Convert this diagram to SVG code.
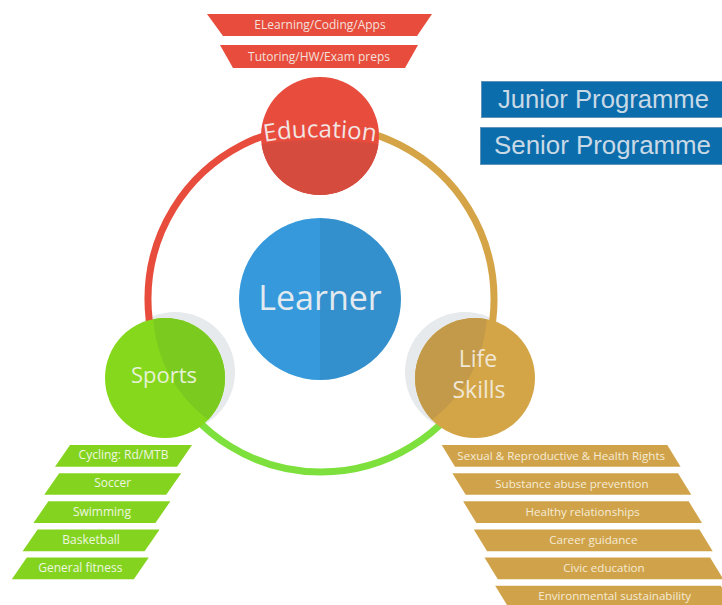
<svg xmlns="http://www.w3.org/2000/svg" xmlns:xlink="http://www.w3.org/1999/xlink" width="722" height="605" viewBox="0 0 722 605">
  <defs>
    <style>
      .t { font-family: "Open Sans", "Noto Sans", "Liberation Sans", sans-serif; text-anchor: middle; }
      .small { font-size: 12px; }
      .gold-lbl { font-size: 11.6px; fill: #f5ebd5; }
      .ring { fill: none; stroke-width: 7; }
      .shadow { fill: #e6eaec; }
      .prog rect { fill: #0b6dab; stroke: #5f93b8; stroke-width: 1; }
      .prog text { font-family: "Liberation Sans", "Open Sans", sans-serif; font-size: 25px; fill: #c9d9e6; }
    </style>
    <polygon id="tag-green" points="15,0 137,0 122,21.7 0,21.7" fill="#84d41f"/>
    <polygon id="tag-gold" points="0,0 225.6,0 238.9,21.7 13.3,21.7" fill="#d0a34a"/>
    <clipPath id="clip-edu"><circle cx="320" cy="136" r="59"/></clipPath>
    <clipPath id="clip-learner"><circle cx="320" cy="299" r="81"/></clipPath>
    <clipPath id="clip-sports"><circle cx="165" cy="378" r="60"/></clipPath>
    <clipPath id="clip-life"><circle cx="475" cy="378" r="60"/></clipPath>
    <path id="edu-arc" d="M 250 144.5 A 340 340 0 0 1 390 144.5"/>
  </defs>

  <rect width="722" height="605" fill="#ffffff"/>

  <!-- soft shadows behind the side nodes -->
  <circle class="shadow" cx="175" cy="372" r="60"/>
  <circle class="shadow" cx="465" cy="372" r="60"/>

  <!-- ring connecting the three pillars -->
  <g id="connectors">
    <path class="ring" stroke="#e74c3c" d="M 321 126 A 173 173 0 0 0 166.7 377.3"/>
    <path class="ring" stroke="#d4a446" d="M 321 126 A 173 173 0 0 1 474.9 378.1"/>
    <path class="ring" stroke="#7de03c" d="M 166.7 377.3 A 173 173 0 0 0 474.9 378.1"/>
  </g>

  <g id="learner">
    <g clip-path="url(#clip-learner)">
      <rect x="239" y="218" width="81" height="162" fill="#3599dc"/>
      <rect x="320" y="218" width="81" height="162" fill="#3390cd"/>
    </g>
    <text class="t" x="320" y="310" font-size="34" fill="#e2eaf0">Learner</text>
  </g>

  <g id="education">
    <g clip-path="url(#clip-edu)">
      <rect x="261" y="77" width="118" height="118" fill="#e84c3d"/>
      <circle cx="320" cy="560" r="420" fill="#d54c3f"/>
    </g>
    <text class="t" font-size="24" fill="#f1e6e4"><textPath href="#edu-arc" xlink:href="#edu-arc" startOffset="50%">Education</textPath></text>
  </g>

  <g id="sports">
    <g clip-path="url(#clip-sports)">
      <rect x="105" y="318" width="120" height="120" fill="#85d81b"/>
      <circle cx="290" cy="310" r="137" fill="#7bca1f"/>
    </g>
    <text class="t" x="164" y="383" font-size="22" fill="#e6f2d6">Sports</text>
  </g>

  <g id="life-skills">
    <g clip-path="url(#clip-life)">
      <rect x="415" y="318" width="120" height="120" fill="#d3a547"/>
      <circle cx="350" cy="310" r="137" fill="#c39a49"/>
    </g>
    <text class="t" x="478" y="367" font-size="23" fill="#f0e7d6">Life</text>
    <text class="t" x="479" y="398" font-size="23" fill="#f0e7d6">Skills</text>
  </g>

  <!-- education offerings -->
  <g id="edu-elearning">
    <polygon points="207,14 432,14 417,36 223,36" fill="#e74c3c"/>
    <text class="t small" x="320" y="29" fill="#f4e0dc">ELearning/Coding/Apps</text>
  </g>
  <g id="edu-tutoring">
    <polygon points="220,45 418,45 405,68 233,68" fill="#e74c3c"/>
    <text class="t small" x="319" y="60.5" fill="#f4e0dc">Tutoring/HW/Exam preps</text>
  </g>

  <!-- programme legend -->
  <g id="junior" class="prog">
    <rect x="481.5" y="81.5" width="245" height="36"/>
    <text x="603.5" y="107.5" text-anchor="middle" textLength="211" lengthAdjust="spacingAndGlyphs">Junior Programme</text>
  </g>
  <g id="senior" class="prog">
    <rect x="480.5" y="127.5" width="245" height="37"/>
    <text x="602.5" y="153.5" text-anchor="middle" textLength="217" lengthAdjust="spacingAndGlyphs">Senior Programme</text>
  </g>

  <!-- sports activities -->
  <g id="sport-cycling">
    <use href="#tag-green" xlink:href="#tag-green" x="55" y="445"/>
    <text class="t small" x="123.5" y="459.3" fill="#eef6e0">Cycling: Rd/MTB</text>
  </g>
  <g id="sport-soccer">
    <use href="#tag-green" xlink:href="#tag-green" x="44.2" y="473.15"/>
    <text class="t small" x="112.7" y="487.45" fill="#eef6e0">Soccer</text>
  </g>
  <g id="sport-swimming">
    <use href="#tag-green" xlink:href="#tag-green" x="33.4" y="501.3"/>
    <text class="t small" x="101.9" y="515.6" fill="#eef6e0">Swimming</text>
  </g>
  <g id="sport-basketball">
    <use href="#tag-green" xlink:href="#tag-green" x="22.6" y="529.45"/>
    <text class="t small" x="91.1" y="543.75" fill="#eef6e0">Basketball</text>
  </g>
  <g id="sport-fitness">
    <use href="#tag-green" xlink:href="#tag-green" x="11.8" y="557.6"/>
    <text class="t small" x="80.3" y="571.9" fill="#eef6e0">General fitness</text>
  </g>

  <!-- life skills topics -->
  <g id="life-rights">
    <use href="#tag-gold" xlink:href="#tag-gold" x="441.7" y="445"/>
    <text class="t gold-lbl" x="561.2" y="459.5">Sexual &amp; Reproductive &amp; Health Rights</text>
  </g>
  <g id="life-substance">
    <use href="#tag-gold" xlink:href="#tag-gold" x="452.4" y="473.15"/>
    <text class="t gold-lbl" x="571.9" y="487.65">Substance abuse prevention</text>
  </g>
  <g id="life-relationships">
    <use href="#tag-gold" xlink:href="#tag-gold" x="463.1" y="501.3"/>
    <text class="t gold-lbl" x="582.6" y="515.8">Healthy relationships</text>
  </g>
  <g id="life-career">
    <use href="#tag-gold" xlink:href="#tag-gold" x="473.8" y="529.45"/>
    <text class="t gold-lbl" x="593.3" y="543.95">Career guidance</text>
  </g>
  <g id="life-civic">
    <use href="#tag-gold" xlink:href="#tag-gold" x="484.5" y="557.6"/>
    <text class="t gold-lbl" x="604" y="572.1">Civic education</text>
  </g>
  <g id="life-environment">
    <use href="#tag-gold" xlink:href="#tag-gold" x="495.2" y="585.75"/>
    <text class="t gold-lbl" x="614.7" y="600.25">Environmental sustainability</text>
  </g>
</svg>
